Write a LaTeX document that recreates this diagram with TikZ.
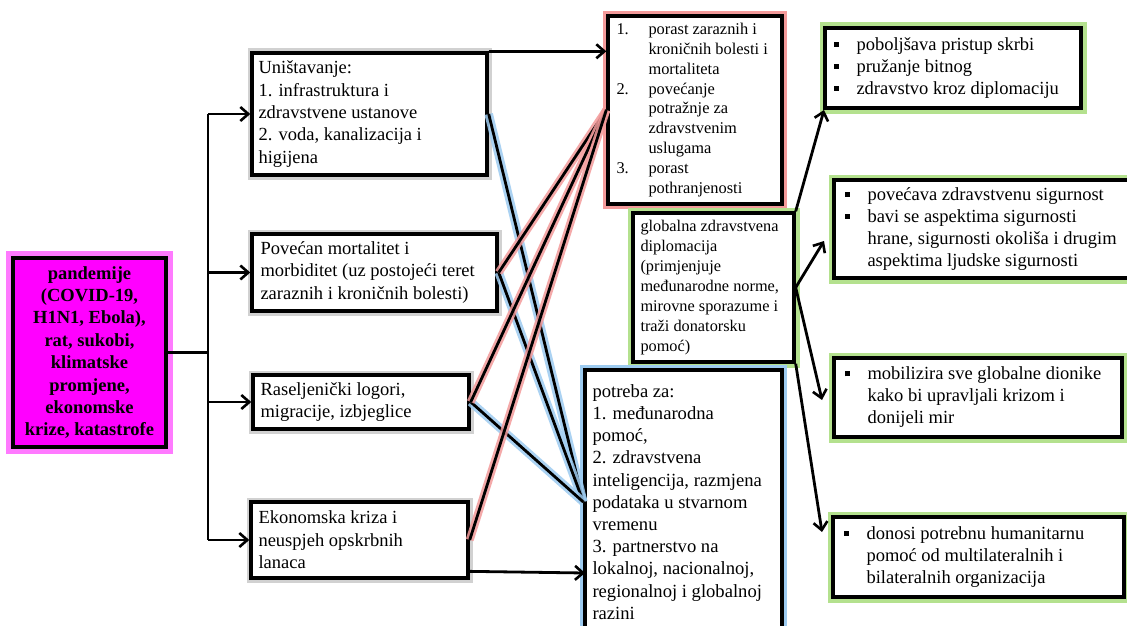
\documentclass[tikz,border=0pt]{standalone}
\usepackage{fontspec}
\setmainfont{Liberation Serif}
\usetikzlibrary{arrows.meta,calc}
\definecolor{glowg}{HTML}{B4E18E}
\definecolor{glowb}{HTML}{9DCBF0}
\definecolor{glowr}{HTML}{F39A9A}
\definecolor{glowm}{HTML}{FF7AFF}
\definecolor{magf}{HTML}{FF00FF}
\newcommand\fA{\fontsize{18.5}{22.4}\selectfont}
\newcommand\fR{\fontsize{16.4}{19.8}\selectfont}
\newcommand\fGl{\fontsize{16.3}{20}\selectfont}
\newcommand\fP{\fontsize{18.6}{22.2}\selectfont}
\newcommand\fE{\fontsize{18.5}{22}\selectfont}
\newcommand\bul{\makebox[23pt][l]{\rule[3.5pt]{5pt}{5pt}}}
\newcommand\ind{\hspace*{23pt}}
\newcommand\rind{\hspace*{32pt}}
\newcommand\rnum[1]{\makebox[32pt][l]{#1}}
\begin{document}
\begin{tikzpicture}[x=1pt,y=-1pt,
 box/.style={draw=black, line width=3.4pt, fill=white, rectangle, inner sep=0pt},
 shad/.style={box, preaction={draw=black!18, line width=9pt}},
 mglow/.style={box, fill=magf, preaction={draw=glowm, line width=14pt}},
 rglow/.style={box, preaction={draw=glowr, line width=10pt}},
 bglow/.style={box, preaction={draw=glowb, line width=10pt}},
 gglow/.style={box, preaction={draw=glowg, line width=11pt}},
 txt/.style={inner sep=0pt, align=left, anchor=west},
 arr/.style={line width=2.8pt, -{Straight Barb[length=8pt,width=14pt,line width=2.6pt]}},
 conn/.style={line width=2.8pt},
 redln/.style={line width=2.8pt, preaction={draw=glowr, line width=8pt, opacity=0.85}},
 blueln/.style={line width=2.8pt, preaction={draw=glowb, line width=8.5pt, opacity=0.85}},
]
\useasboundingbox (0,0) rectangle (1127,626);
\fill[white] (0,0) rectangle (1127,626);

% boxes
\node[mglow, minimum width=153pt, minimum height=189pt] (mag) at (89.5,352.5) {};
\node[shad, minimum width=235pt, minimum height=122pt] (b1) at (369.5,114) {};
\node[shad, minimum width=245pt, minimum height=77pt] (b2) at (374.5,272.5) {};
\node[shad, minimum width=216pt, minimum height=54pt] (b3) at (361,402) {};
\node[shad, minimum width=217pt, minimum height=76pt] (b4) at (359.5,540) {};
\node[rglow, minimum width=174pt, minimum height=188pt] (red) at (695,110) {};
\node[gglow, minimum width=161pt, minimum height=149pt] (glob) at (713.5,287.5) {};
\node[bglow, minimum width=197pt, minimum height=264pt] (pot) at (683.5,502) {};
\node[gglow, minimum width=256pt, minimum height=80pt] (g1) at (953,68) {};
\node[gglow, minimum width=306pt, minimum height=98pt] (g2) at (987,229) {};
\node[gglow, minimum width=288pt, minimum height=79pt] (g3) at (978,397.5) {};
\node[gglow, minimum width=291pt, minimum height=80pt] (g4) at (978.5,557) {};

% texts
\node[inner sep=0pt, align=center, font=\fA\bfseries] (magt) at (mag.center)
 {pandemije\\(COVID-19,\\H1N1, Ebola),\\rat, sukobi,\\klimatske\\promjene,\\ekonomske\\krize, katastrofe};
\node[txt, font=\fA] (b1t) at ([xshift=8pt]b1.west)
 {Uništavanje:\\1. infrastruktura i\\zdravstvene ustanove\\2. voda, kanalizacija i\\higijena};
\node[txt, font=\fA] (b2t) at ([xshift=10pt]b2.west)
 {Povećan mortalitet i\\morbiditet (uz postojeći teret\\zaraznih i kroničnih bolesti)};
\node[txt, font=\fA] (b3t) at ([xshift=9pt]b3.west)
 {Raseljenički logori,\\migracije, izbjeglice};
\node[txt, font=\fA] (b4t) at ([xshift=9pt]b4.west)
 {Ekonomska kriza i\\neuspjeh opskrbnih\\lanaca};
\node[txt, font=\fR] (redt) at ([xshift=10pt]red.west)
 {\rnum{1.}porast zaraznih i\\\rind kroničnih bolesti i\\\rind mortaliteta\\
  \rnum{2.}povećanje\\\rind potražnje za\\\rind zdravstvenim\\\rind uslugama\\
  \rnum{3.}porast\\\rind pothranjenosti};
\node[txt, font=\fGl] (globt) at ([xshift=9pt]glob.west)
 {globalna zdravstvena\\diplomacija\\(primjenjuje\\međunarodne norme,\\mirovne sporazume i\\traži donatorsku\\pomoć)};
\node[txt, font=\fP] (pott) at ([xshift=9pt]pot.west)
 {potreba za:\\1. međunarodna\\pomoć,\\2. zdravstvena\\inteligencija, razmjena\\podataka u stvarnom\\vremenu\\3. partnerstvo na\\lokalnoj, nacionalnoj,\\regionalnoj i globalnoj\\razini};
\node[txt, font=\fE] (g1t) at ([xshift=10pt]g1.west)
 {\bul poboljšava pristup skrbi\\\bul pružanje bitnog\\\bul zdravstvo kroz diplomaciju};
\node[txt, font=\fE] (g2t) at ([xshift=12pt]g2.west)
 {\bul povećava zdravstvenu sigurnost\\\bul bavi se aspektima sigurnosti\\\ind hrane, sigurnosti okoliša i drugim\\\ind aspektima ljudske sigurnosti};
\node[txt, font=\fE] (g3t) at ([xshift=12pt]g3.west)
 {\bul mobilizira sve globalne dionike\\\ind kako bi upravljali krizom i\\\ind donijeli mir};
\node[txt, font=\fE] (g4t) at ([xshift=12pt]g4.west)
 {\bul donosi potrebnu humanitarnu\\\ind pomoć od multilateralnih i\\\ind bilateralnih organizacija};

% left bus
\coordinate (bus) at (208,352.5);
\draw[conn] (mag.east) -- (bus);
\draw[conn] (bus |- b1.west) -- (bus |- b4.west);
\draw[arr] (bus |- b1.west) -- (b1.west);
\draw[arr] (bus |- b2.west) -- (b2.west);
\draw[arr] (bus |- b3.west) -- (b3.west);
\draw[arr] (bus |- b4.west) -- (b4.west);

% to red box and potreba
\draw[arr] (b1.north east) -- (b1.north east -| red.west);
\coordinate (b4o) at ($(b4.north east)!0.895!(b4.south east)$);
\coordinate (p4) at (585,573);
\draw[arr] (b4o) -- (p4);

% blue lines
\draw[blueln] (b1.east) -- (pot.west);
\draw[blueln] (b2.east) -- (pot.west);
\draw[blueln] (b3.east) -- (pot.west);
% red lines
\draw[redln] (b2.east) -- (red.west);
\draw[redln] (b3.east) -- (red.west);
\draw[redln] (b4.east) -- (red.west);

% green arrows
\coordinate (t1) at (824,110);
\coordinate (t2) at (824,241);
\coordinate (t3) at (822,400);
\coordinate (t4) at (822,532);
\draw[arr] (glob.north east) -- (t1);
\draw[arr] (glob.east) -- (t2);
\draw[arr] (glob.east) -- (t3);
\draw[arr] (glob.south east) -- (t4);
\end{tikzpicture}
\end{document}
